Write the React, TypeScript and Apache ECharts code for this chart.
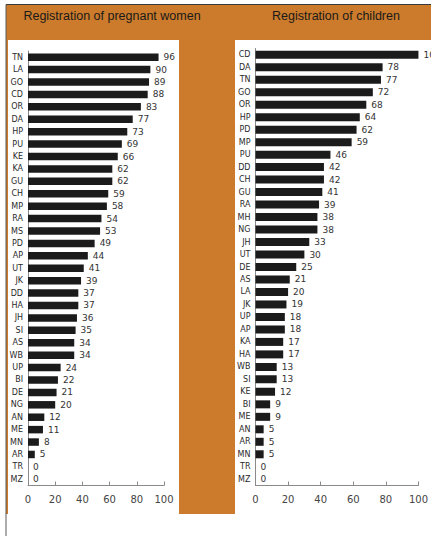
import React, { useEffect, useRef } from "react";
import * as echarts from "echarts";

const womenCats = ["TN","LA","GO","CD","OR","DA","HP","PU","KE","KA","GU","CH","MP","RA","MS","PD","AP","UT","JK","DD","HA","JH","SI","AS","WB","UP","BI","DE","NG","AN","ME","MN","AR","TR","MZ"];
const womenVals = [96,90,89,88,83,77,73,69,66,62,62,59,58,54,53,49,44,41,39,37,37,36,35,34,34,24,22,21,20,12,11,8,5,0,0];
const childCats = ["CD","DA","TN","GO","OR","HP","PD","MP","PU","DD","CH","GU","RA","MH","NG","JH","UT","DE","AS","LA","JK","UP","AP","KA","HA","WB","SI","KE","BI","ME","AN","AR","MN","TR","MZ"];
const childVals = [100,78,77,72,68,64,62,59,46,42,42,41,39,38,38,33,30,25,21,20,19,18,18,17,17,13,13,12,9,9,5,5,5,0,0];
const titles = ["Registration of pregnant women", "Registration of children"];
const xMin = 0;
const xMax = 100;
const xStep = 20;

const ORANGE = "#CB7B2B";
const AXIS = "#8a8a8a";

export default function App() {
  const ref = useRef<HTMLDivElement>(null);
  useEffect(() => {
    if (!ref.current) return;
    const chart = echarts.init(ref.current, undefined, { renderer: "svg" });
    const xAxisBase = (gridIndex: number) => ({
      type: "value",
      gridIndex,
      min: xMin,
      max: xMax,
      interval: xStep,
      splitLine: { show: false },
      axisLine: { show: true, lineStyle: { color: AXIS, width: 1 } },
      axisTick: { show: true, inside: true, length: 4, lineStyle: { color: AXIS } },
      axisLabel: { color: "#444", fontSize: 10, fontFamily: "DejaVu Sans", margin: 9 },
    });
    const yAxisBase = (gridIndex: number, data: string[]) => ({
      type: "category",
      gridIndex,
      data,
      inverse: true,
      axisLine: { show: true, lineStyle: { color: AXIS, width: 1 } },
      axisTick: { show: false },
      axisLabel: { color: "#2a2a2a", fontSize: 8, fontFamily: "DejaVu Sans", margin: 5, interval: 0 },
    });
    const seriesBase = (idx: number, data: number[], bw: number) => ({
      type: "bar",
      xAxisIndex: idx,
      yAxisIndex: idx,
      data,
      barWidth: bw,
      itemStyle: { color: "#1b1b1b" },
      label: {
        show: true,
        position: "right",
        distance: 5,
        color: "#333",
        fontSize: 9,
        fontFamily: "DejaVu Sans",
      },
      z: 5,
    });
    chart.setOption({
      animation: false,
      backgroundColor: "#ffffff",
      grid: [
        { left: 28, top: 51, width: 136, height: 434.5, containLabel: false },
        { left: 255.5, top: 48.5, width: 165.5, height: 437, containLabel: false },
      ],
      xAxis: [xAxisBase(0), xAxisBase(1)],
      yAxis: [yAxisBase(0, womenCats), yAxisBase(1, childCats)],
      series: [seriesBase(0, womenVals, 7.5), seriesBase(1, childVals, 8)],
      graphic: [
        { type: "rect", z: -100, shape: { x: 6, y: 4.5, width: 425, height: 509.5 }, style: { fill: ORANGE } },
        { type: "line", z: -90, shape: { x1: 6, y1: 4.5, x2: 431, y2: 4.5 }, style: { stroke: "#3a3a3a", lineWidth: 1 } },
        { type: "line", z: -90, shape: { x1: 6, y1: 4.5, x2: 6, y2: 536 }, style: { stroke: "#5a5a5a", lineWidth: 1 } },
        { type: "rect", z: -80, shape: { x: 8, y: 40, width: 171, height: 474 }, style: { fill: "#ffffff" } },
        { type: "rect", z: -80, shape: { x: 235, y: 40, width: 196, height: 474 }, style: { fill: "#ffffff" } },
        {
          type: "text", z: -70, x: 112, y: 16,
          style: { text: titles[0], fill: "#1a1a1a", font: "12.5px 'Liberation Sans'", textAlign: "center", textVerticalAlign: "middle" },
        },
        {
          type: "text", z: -70, x: 336, y: 16,
          style: { text: titles[1], fill: "#1a1a1a", font: "12.5px 'Liberation Sans'", textAlign: "center", textVerticalAlign: "middle" },
        },
      ],
    });
    return () => chart.dispose();
  }, []);
  return (
    <div
      ref={ref}
      style={{ position: "fixed", left: 0, top: 0, width: 431, height: 536 }}
    />
  );
}
